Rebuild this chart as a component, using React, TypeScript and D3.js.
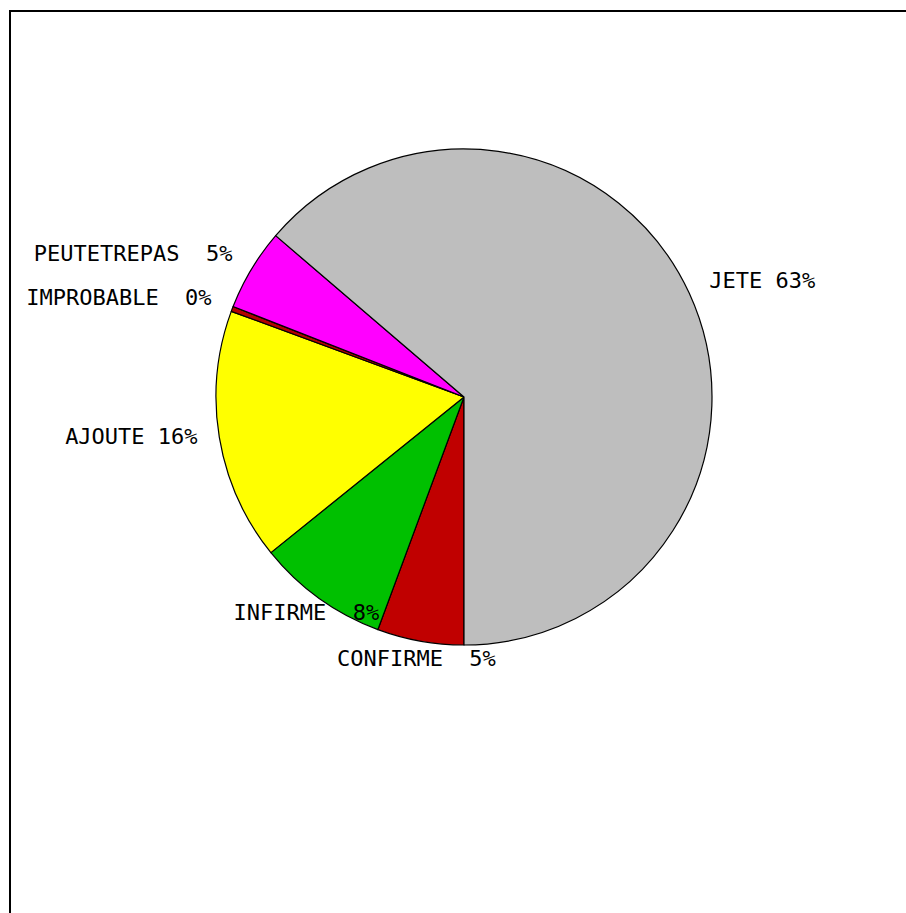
import React, { useRef, useEffect } from "react";
import * as d3 from "d3";

// slices, clockwise from 6 o'clock
const categories = ["CONFIRME", "INFIRME", "AJOUTE", "IMPROBABLE", "PEUTETREPAS", "JETE"];
const values = [5.64, 8.56, 16.4, 0.33, 5.33, 63.7];
const colors = ["#c00000", "#00c000", "#ffff00", "#b40000", "#ff00ff", "#bebebe"];

const WIDTH = 906;
const HEIGHT = 913;

const PieChart: React.FC = () => {
  const svgRef = useRef<SVGSVGElement | null>(null);

  useEffect(() => {
    if (!svgRef.current) return;
    const root = d3.select(svgRef.current);
    root.selectAll("*").remove();

    // frame (runs off the page on the right and bottom)
    root
      .append("rect")
      .attr("x", 10)
      .attr("y", 11)
      .attr("width", WIDTH + 20)
      .attr("height", HEIGHT + 20)
      .attr("fill", "none")
      .attr("stroke", "#000")
      .attr("stroke-width", 2);

    const cx = 464;
    const cy = 397;
    const radius = 248;
    const labelRadius = 270;

    const data = categories.map((name, i) => ({ name, value: values[i], color: colors[i] }));
    const total = d3.sum(values);

    const pie = d3
      .pie<{ name: string; value: number; color: string }>()
      .sort(null)
      .value((d) => d.value)
      .startAngle(Math.PI)
      .endAngle(3 * Math.PI);

    const arc = d3
      .arc<d3.PieArcDatum<{ name: string; value: number; color: string }>>()
      .innerRadius(0)
      .outerRadius(radius);

    const g = root.append("g").attr("transform", `translate(${cx},${cy})`);
    const arcs = pie(data);

    g.selectAll("path")
      .data(arcs)
      .join("path")
      .attr("d", arc)
      .attr("fill", (d) => d.data.color)
      .attr("stroke", "#000")
      .attr("stroke-width", 1.2)
      .attr("stroke-linejoin", "round");

    // labels: name + percent padded to 2 chars
    g.selectAll("text")
      .data(arcs)
      .join("text")
      .each(function (d) {
        const a = (d.startAngle + d.endAngle) / 2;
        const s = Math.sin(a);
        const x = labelRadius * s;
        const y = -labelRadius * Math.cos(a);
        const pct = String(Math.floor((d.data.value / total) * 100)).padStart(2, " ");
        const anchor = s > 0.7 ? "start" : s < -0.7 ? "end" : "middle";
        d3.select(this)
          .attr("x", x)
          .attr("y", y - 4)
          .attr("text-anchor", anchor)
          .attr("dominant-baseline", "central")
          .attr("xml:space", "preserve")
          .style("white-space", "pre")
          .text(`${d.data.name} ${pct}%`);
      })
      .attr("font-family", "'DejaVu Sans Mono', monospace")
      .attr("font-size", 22)
      .attr("fill", "#000");
  }, []);

  return (
    <svg
      ref={svgRef}
      width={WIDTH}
      height={HEIGHT}
      style={{ position: "absolute", left: 0, top: 0, background: "#fff" }}
    ></svg>
  );
};

export default function App() {
  return <PieChart />;
}
